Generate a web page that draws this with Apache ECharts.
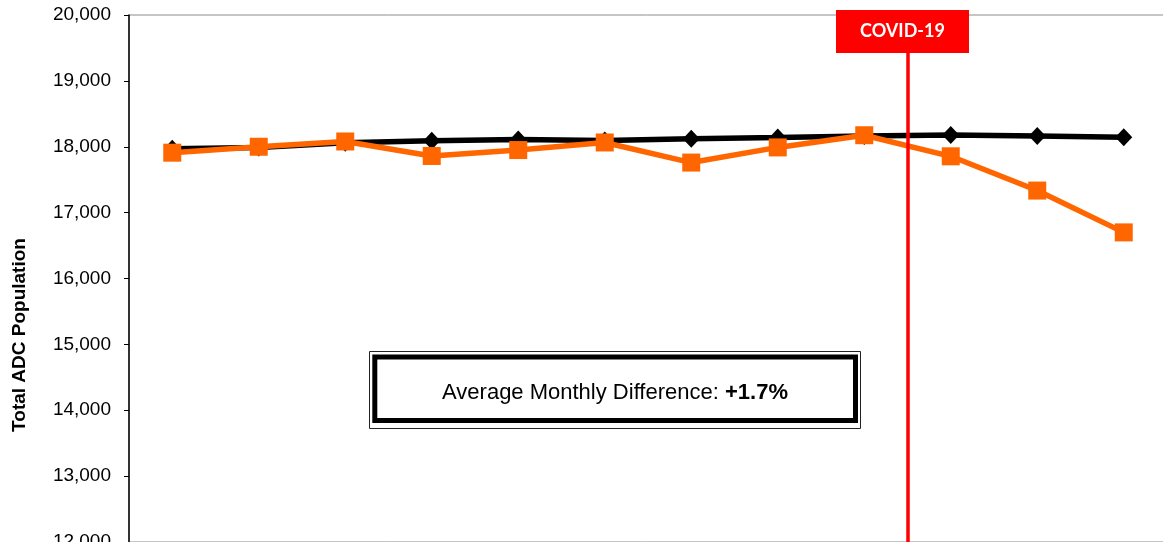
<!DOCTYPE html>
<html>
<head>
<meta charset="utf-8">
<script src="https://cdn.jsdelivr.net/npm/echarts@6/dist/echarts.min.js"></script>
<style>
  html, body { margin: 0; padding: 0; background: #fff; }
  #chart { width: 1163px; height: 542px; }
</style>
</head>
<body>
<div id="chart"></div>
<script>
// Month positions along the x axis (1 = first month shown)
const periods = [1, 2, 3, 4, 5, 6, 7, 8, 9, 10, 11, 12];
// Projected population (black diamonds)
const projected = [17970, 17990, 18060, 18090, 18110, 18095, 18120, 18140, 18165, 18180, 18165, 18145];
// Actual population (orange squares)
const actual = [17910, 18000, 18080, 17860, 17950, 18065, 17760, 17990, 18175, 17855, 17335, 16700];
// Y axis ticks
const yMin = 12000, yMax = 20000, yStep = 1000;
// COVID-19 marker sits between the 9th and 10th month
const covidAt = 9.5;
const covidLabel = 'COVID-19';
const diffLabel = 'Average Monthly Difference: ';
const diffValue = '+1.7%';
const yTitle = 'Total ADC Population';

const pairs = (vals) => periods.map((p, i) => [p, vals[i]]);

const chart = echarts.init(document.getElementById('chart'));
chart.setOption({
  animation: false,
  backgroundColor: '#fff',
  textStyle: { fontFamily: 'Liberation Sans, Arial, sans-serif' },
  grid: {
    left: 129, top: 15, width: 1038, height: 527,
    outerBoundsMode: 'none',
    containLabel: false,
    show: true, borderColor: '#8c8c8c', borderWidth: 1, backgroundColor: 'transparent'
  },
  xAxis: {
    type: 'value', min: 0.5, max: 12.5,
    axisLine: { show: false }, axisTick: { show: false },
    axisLabel: { show: false }, splitLine: { show: false }
  },
  yAxis: {
    type: 'value', min: yMin, max: yMax, interval: yStep,
    axisLine: { show: true, lineStyle: { color: '#000', width: 1.5 } },
    axisTick: { show: true, length: 5, lineStyle: { color: '#000', width: 1 } },
    splitLine: { show: false },
    axisLabel: {
      color: '#000', fontSize: 19, margin: 18,
      fontFamily: 'Liberation Sans, Arial, sans-serif',
      formatter: (v) => v.toLocaleString('en-US')
    }
  },
  series: [
    {
      name: 'Projected', type: 'line', data: pairs(projected),
      symbol: 'diamond', symbolSize: [17, 18],
      lineStyle: { color: '#000', width: 5.5 },
      itemStyle: { color: '#000' },
      z: 2
    },
    {
      name: 'Actual', type: 'line', data: pairs(actual),
      symbol: 'rect', symbolSize: 18,
      lineStyle: { color: '#FF6600', width: 5.5 },
      itemStyle: { color: '#FF6600' },
      z: 3,
      markLine: {
        silent: true, symbol: 'none', animation: false,
        label: { show: false },
        lineStyle: { color: '#FF0000', width: 3.5, type: 'solid' },
        data: [{ xAxis: covidAt }]
      }
    }
  ]
});

// Annotations placed relative to the axes
const covidX = chart.convertToPixel({ xAxisIndex: 0 }, covidAt);
chart.setOption({
  graphic: [
    {
      type: 'text', z: 50,
      rotation: Math.PI / 2,
      x: 20, y: 335,
      style: {
        text: yTitle, fill: '#000', font: 'bold 19px "Liberation Sans", Arial, sans-serif',
        align: 'center', verticalAlign: 'middle'
      }
    },
    { type: 'rect', z: 100, shape: { x: covidX - 71.5, y: 10, width: 133, height: 43 },
      style: { fill: '#FF0000' } },
    { type: 'text', z: 101, x: covidX - 5, y: 31.5,
      style: { text: covidLabel, fill: '#fff', font: 'bold 18px Lato, "Open Sans", sans-serif',
               align: 'center', verticalAlign: 'middle' } },
    { type: 'rect', z: 100, shape: { x: 369.5, y: 351.5, width: 491, height: 77 },
      style: { fill: '#fff', stroke: '#222', lineWidth: 1 } },
    { type: 'rect', z: 101, shape: { x: 374.8, y: 357, width: 480.7, height: 63.5 },
      style: { fill: '#fff', stroke: '#000', lineWidth: 5 } },
    { type: 'text', z: 102, x: 615, y: 393,
      style: {
        text: '{n|' + diffLabel + '}{b|' + diffValue + '}',
        align: 'center', verticalAlign: 'middle',
        rich: {
          n: { fontSize: 22, fontFamily: 'Liberation Sans, Arial, sans-serif', fill: '#000' },
          b: { fontSize: 22, fontWeight: 'bold', fontFamily: 'Liberation Sans, Arial, sans-serif', fill: '#000' }
        }
      } }
  ]
});
</script>
</body>
</html>
